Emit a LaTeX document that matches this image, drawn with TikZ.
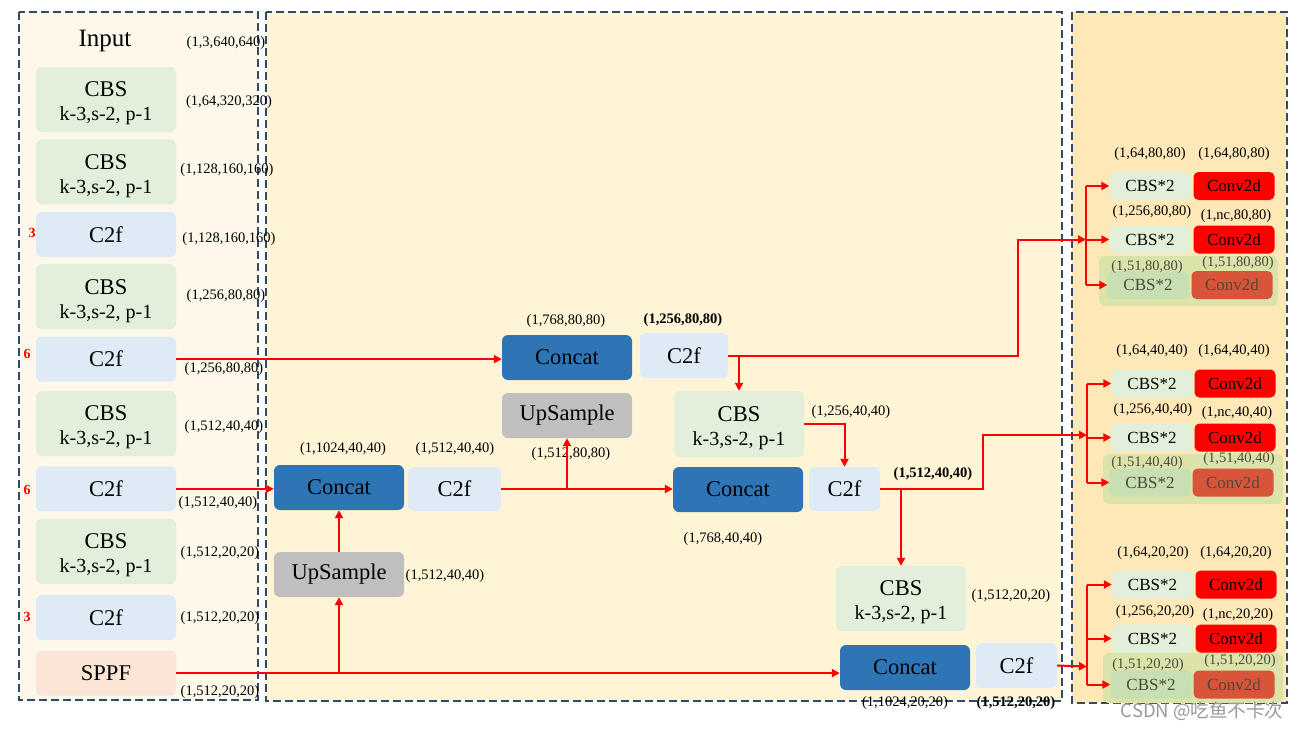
\documentclass[tikz,border=0pt]{standalone}
\usepackage{fontspec}
\setmainfont{Liberation Serif}
\newfontfamily\cjkfont{Noto Sans CJK SC}
\usetikzlibrary{arrows.meta,positioning}
\definecolor{cbsgreen}{RGB}{226,239,218}
\definecolor{c2fblue}{RGB}{222,235,247}
\definecolor{catblue}{RGB}{46,117,182}
\definecolor{upgray}{RGB}{191,191,191}
\definecolor{sppfpink}{RGB}{251,229,214}
\definecolor{backpanel}{RGB}{253,248,233}
\definecolor{neckpanel}{RGB}{255,244,214}
\definecolor{headpanel}{RGB}{255,232,184}
\definecolor{panelline}{RGB}{47,74,106}
\definecolor{convred}{RGB}{255,0,0}
\definecolor{groupgreen}{RGB}{219,226,170}
\definecolor{fadegreen}{RGB}{199,223,178}
\definecolor{fadered}{RGB}{217,85,58}
\definecolor{fadetext}{RGB}{75,75,60}
\newcommand{\cbsrows}{\rule{0pt}{23pt}CBS\\{\fontsize{20}{22}\selectfont k-3,s-2, p-1}}

\begin{document}
\begin{tikzpicture}[x=1pt, y=-1pt, >={Triangle[length=8pt,width=8pt]},
  panel/.style={draw=panelline, line width=1.1pt, dash pattern=on 8pt off 4pt},
  box/.style={rounded corners=6pt, inner sep=0pt, align=center, font=\fontsize{22.5}{24}\selectfont},
  cbs/.style={box, fill=cbsgreen, minimum width=140pt, minimum height=65pt},
  c2f/.style={box, fill=c2fblue, minimum width=140pt, minimum height=45pt},
  concat/.style={box, fill=catblue, minimum width=130pt, minimum height=45pt},
  upsmp/.style={box, fill=upgray, minimum width=130pt, minimum height=45pt},
  sppf/.style={box, fill=sppfpink, minimum width=140pt, minimum height=45pt},
  headcbs/.style={box, rounded corners=5pt, fill=cbsgreen, minimum width=81pt, minimum height=28pt, font=\fontsize{17}{19}\selectfont},
  headconv/.style={headcbs, fill=convred},
  fadecbs/.style={headcbs, fill=fadegreen, text=fadetext},
  fadeconv/.style={headcbs, fill=fadered, text=fadetext},
  dim/.style={font=\fontsize{14.5}{16}\selectfont, inner sep=0pt},
  dimb/.style={dim, font=\fontsize{14.5}{16}\selectfont\bfseries},
  rep/.style={text=red, font=\fontsize{14}{16}\selectfont\bfseries, inner sep=0pt},
  flow/.style={draw=red, line width=2pt}]

  \useasboundingbox (0,0) rectangle (1303,729);

  % panels
  \draw[panel, fill=backpanel] (19,12) rectangle (258,700);
  \draw[panel, fill=neckpanel] (266,12) rectangle (1062,701);
  \draw[panel, fill=headpanel] (1072,12) rectangle (1287,703);

  % backbone
  \node[box, font=\fontsize{25}{27}\selectfont] (input) at (105,41) {Input};
  \node[cbs] (cbs1) at (106,99.5) {\cbsrows};
  \node[cbs, below=7pt of cbs1] (cbs2) {\cbsrows};
  \node[c2f, below=7pt of cbs2] (c2f1) {C2f};
  \node[cbs, below=7pt of c2f1] (cbs3) {\cbsrows};
  \node[c2f, below=7pt of cbs3] (c2f2) {C2f};
  \node[cbs, below=9pt of c2f2] (cbs4) {\cbsrows};
  \node[c2f, below=10pt of cbs4] (c2f3) {C2f};
  \node[cbs, below=7pt of c2f3] (cbs5) {\cbsrows};
  \node[c2f, below=11pt of cbs5] (c2f4) {C2f};
  \node[sppf, below=10pt of c2f4] (spp) {SPPF};

  \node[rep] (n1) at (32,233) {3};
  \node[rep] (n2) at (27,354) {6};
  \node[rep] (n3) at (27,490) {6};
  \node[rep] (n4) at (27,617) {3};

  \node[dim] (d1) at (226,43) {(1,3,640,640)};
  \node[dim] (d2) at (229,102) {(1,64,320,320)};
  \node[dim] (d3) at (227,170) {(1,128,160,160)};
  \node[dim] (d4) at (229,239) {(1,128,160,160)};
  \node[dim] (d5) at (226,296) {(1,256,80,80)};
  \node[dim] (d6) at (224,369) {(1,256,80,80)};
  \node[dim] (d7) at (224,427) {(1,512,40,40)};
  \node[dim] (d8) at (218,503) {(1,512,40,40)};
  \node[dim] (d9) at (220,553) {(1,512,20,20)};
  \node[dim] (d10) at (220,618) {(1,512,20,20)};
  \node[dim] (d11) at (220,692) {(1,512,20,20)};

  % neck
  \node[concat] (cat40) at (339,487.5) {Concat};
  \node[c2f, minimum width=93pt, minimum height=44pt] (c2f40) at (454.5,489) {C2f};
  \node[upsmp] (ups40) at (339,574.5) {UpSample};
  \node[concat] (cat80) at (567,357.5) {Concat};
  \node[c2f, minimum width=88pt] (c2f80) at (684,355.5) {C2f};
  \node[upsmp] (ups80) at (567,415.5) {UpSample};
  \node[cbs, minimum width=130pt, minimum height=66pt] (cbsm) at (739,424) {\cbsrows};
  \node[concat] (pan40) at (738,489.5) {Concat};
  \node[c2f, minimum width=71pt, minimum height=44pt] (c2fp40) at (844.5,489) {C2f};
  \node[cbs, minimum width=130pt] (cbsl) at (901,598.5) {\cbsrows};
  \node[concat] (cat20) at (905,667.5) {Concat};
  \node[c2f, minimum width=81pt] (c2f20) at (1016.5,665.5) {C2f};

  \node[dim] (e1) at (343,449) {(1,1024,40,40)};
  \node[dim] (e2) at (455,449) {(1,512,40,40)};
  \node[dim] (e3) at (445,576) {(1,512,40,40)};
  \node[dim] (e4) at (566,321) {(1,768,80,80)};
  \node[dimb] (e5) at (683,320) {(1,256,80,80)};
  \node[dim] (e6) at (571,454) {(1,512,80,80)};
  \node[dim] (e7) at (851,412) {(1,256,40,40)};
  \node[dim] (e8) at (723,539) {(1,768,40,40)};
  \node[dimb] (e9) at (933,474) {(1,512,40,40)};
  \node[dim] (e10) at (1011,596) {(1,512,20,20)};
  \node[dim] (e11) at (905,703) {(1,1024,20,20)};
  \node[dimb] (e12) at (1016,703) {(1,512,20,20)};

  % head 80
  \fill[groupgreen, rounded corners=6pt] (1099,256) rectangle (1278,306);
  \node[headcbs] (hA1) at (1150,186) {CBS*2};
  \node[headconv] (cA1) at (1234,186) {Conv2d};
  \node[headcbs] (hA2) at (1150,239.5) {CBS*2};
  \node[headconv] (cA2) at (1234,239.5) {Conv2d};
  \node[fadecbs] (hA3) at (1148,285) {CBS*2};
  \node[fadeconv] (cA3) at (1232,285) {Conv2d};
  \node[dim] (fA1) at (1150,154) {(1,64,80,80)};
  \node[dim] (fA2) at (1234,154) {(1,64,80,80)};
  \node[dim] (fA3) at (1152,212) {(1,256,80,80)};
  \node[dim] (fA4) at (1236,216) {(1,nc,80,80)};
  \node[dim, text=fadetext] (fA5) at (1147,267) {(1,51,80,80)};
  \node[dim, text=fadetext] (fA6) at (1238,263) {(1,51,80,80)};

  % head 40
  \fill[groupgreen, rounded corners=6pt] (1103,454) rectangle (1283,504);
  \node[headcbs] (hB1) at (1152,383.5) {CBS*2};
  \node[headconv] (cB1) at (1235,383.5) {Conv2d};
  \node[headcbs] (hB2) at (1152,437.5) {CBS*2};
  \node[headconv] (cB2) at (1235,437.5) {Conv2d};
  \node[fadecbs] (hB3) at (1150,482.5) {CBS*2};
  \node[fadeconv] (cB3) at (1233,482.5) {Conv2d};
  \node[dim] (fB1) at (1152,351) {(1,64,40,40)};
  \node[dim] (fB2) at (1234,351) {(1,64,40,40)};
  \node[dim] (fB3) at (1153,410) {(1,256,40,40)};
  \node[dim] (fB4) at (1237,413) {(1,nc,40,40)};
  \node[dim, text=fadetext] (fB5) at (1147,463) {(1,51,40,40)};
  \node[dim, text=fadetext] (fB6) at (1239,459) {(1,51,40,40)};

  % head 20
  \fill[groupgreen, rounded corners=6pt] (1103,653) rectangle (1283,703);
  \node[headcbs] (hC1) at (1152.5,584.5) {CBS*2};
  \node[headconv] (cC1) at (1236,584.5) {Conv2d};
  \node[headcbs] (hC2) at (1152.5,638.5) {CBS*2};
  \node[headconv] (cC2) at (1236,638.5) {Conv2d};
  \node[fadecbs] (hC3) at (1151,684.5) {CBS*2};
  \node[fadeconv] (cC3) at (1234,684.5) {Conv2d};
  \node[dim] (fC1) at (1153,553) {(1,64,20,20)};
  \node[dim] (fC2) at (1236,553) {(1,64,20,20)};
  \node[dim] (fC3) at (1155,612) {(1,256,20,20)};
  \node[dim] (fC4) at (1238,615) {(1,nc,20,20)};
  \node[dim, text=fadetext] (fC5) at (1148,665) {(1,51,20,20)};
  \node[dim, text=fadetext] (fC6) at (1240,661) {(1,51,20,20)};

  \coordinate (inA) at (1086,239.5);
  \coordinate (inB) at (1087,435);
  \coordinate (inC) at (1087,666.5);
  \coordinate (upA) at (1018,239.5);
  \coordinate (upB) at (983,435);

  % connectors
  \draw[flow,->] (c2f2.east) -- (c2f2.east -| cat80.west);
  \draw[flow,->] (c2f3.east) -- (c2f3.east -| cat40.west);
  \draw[flow,->] (spp.east) -- (spp.east -| cat20.west);
  \draw[flow,->] (spp.east -| ups40.south) -- (ups40.south);
  \path[flow,->] (ups40) edge (cat40);
  \draw[flow,->] (c2f40.east) -- (c2f40.east -| pan40.west);
  \draw[flow,->] (c2f40.east -| ups80.south) -- (ups80.south);
  \draw[flow,->] (c2f80.east) -| (upA) -- (inA);
  \draw[flow,->] (c2f80.east -| cbsm.north) -- (cbsm.north);
  \draw[flow,->] (cbsm.east) -| (c2fp40.north);
  \draw[flow,->] (c2fp40.east) -| (upB) -- (inB);
  \draw[flow,->] (c2fp40.east -| cbsl.north) -- (cbsl.north);
  \draw[flow,->] (c2f20.east) -- (inC);

  \draw[flow] (inA |- hA1) -- (inA |- hA3);
  \draw[flow,->] (inA |- hA1) -- (hA1.west);
  \draw[flow,->] (inA |- hA2) -- (hA2.west);
  \draw[flow,->] (inA |- hA3) -- (hA3.west);
  \draw[flow] (inB |- hB1) -- (inB |- hB3);
  \draw[flow,->] (inB |- hB1) -- (hB1.west);
  \draw[flow,->] (inB |- hB2) -- (hB2.west);
  \draw[flow,->] (inB |- hB3) -- (hB3.west);
  \draw[flow] (inC |- hC1) -- (inC |- hC3);
  \draw[flow,->] (inC |- hC1) -- (hC1.west);
  \draw[flow,->] (inC |- hC2) -- (hC2.west);
  \draw[flow,->] (inC |- hC3) -- (hC3.west);

  \node[text=black!40, font=\cjkfont\fontsize{18.5}{20}\selectfont, inner sep=0pt] (mark) at (1202,711) {CSDN @吃鱼不卡次};
\end{tikzpicture}
\end{document}
